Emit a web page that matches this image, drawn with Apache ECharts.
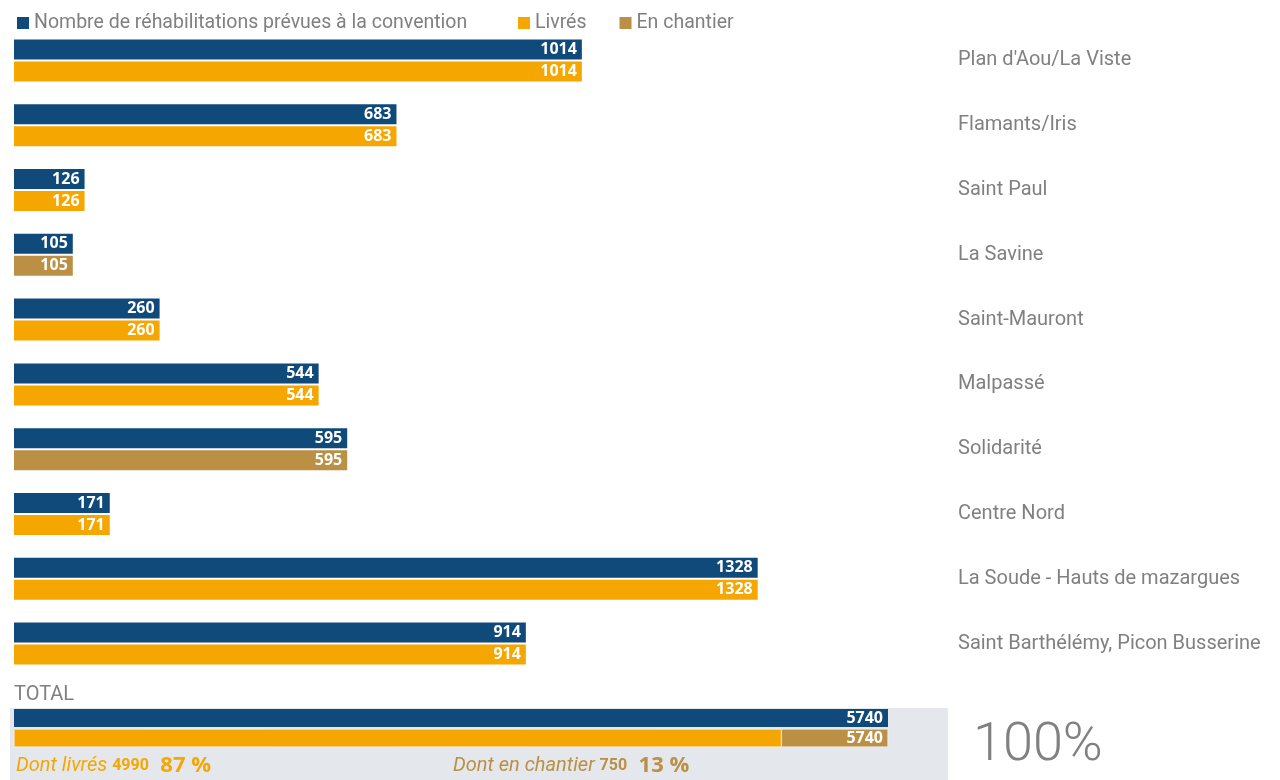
<!DOCTYPE html>
<html>
<head>
<meta charset="utf-8">
<script src="https://cdn.jsdelivr.net/npm/echarts@6/dist/echarts.min.js"></script>
<style>
  html, body { margin: 0; padding: 0; background: #fff; }
  #main { width: 1280px; height: 780px; }
</style>
</head>
<body>
<div id="main"></div>
<script>
// quartiers (de haut en bas)
var quartiers = ["Plan d'Aou/La Viste", 'Flamants/Iris', 'Saint Paul', 'La Savine', 'Saint-Mauront',
  'Malpassé', 'Solidarité', 'Centre Nord', 'La Soude - Hauts de mazargues', 'Saint Barthélémy, Picon Busserine'];
var prevues = [1014, 683, 126, 105, 260, 544, 595, 171, 1328, 914];
var livres = [1014, 683, 126, '-', 260, 544, '-', 171, 1328, 914];
var chantier = ['-', '-', '-', 105, '-', '-', 595, '-', '-', '-'];
// total
var totalPrevues = 5740;
var totalLivres = 5040;
var totalChantier = 700;
var texteLivres = 4990, pctLivres = '87 %';
var texteChantier = 750, pctChantier = '13 %';

var navy = '#104a7b', orange = '#f5a600', tan = '#bb8f44', grey = '#808080';
var fontTxt = 'Roboto, sans-serif';
var fontBold = '"Open Sans", sans-serif';

var chart = echarts.init(document.getElementById('main'));

var lbl = {
  show: true,
  position: 'insideRight',
  distance: 5,
  color: '#fff',
  fontFamily: fontBold,
  fontWeight: 'bold',
  fontSize: 16
};

var legendCommun = {
  top: 8,
  itemWidth: 12,
  itemHeight: 12,
  icon: 'rect',
  textStyle: { color: grey, fontSize: 19.5, fontFamily: fontTxt }
};

var option = {
  animation: false,
  legend: [
    Object.assign({ left: 12, data: ['Nombre de réhabilitations prévues à la convention'] }, legendCommun),
    Object.assign({ left: 513, itemGap: 33, data: ['Livrés', 'En chantier'] }, legendCommun)
  ],
  grid: [
    { left: 14, top: 28, width: 896, height: 648 },
    { left: 14, top: 709, width: 874 * 6000 / 5740, height: 38 }
  ],
  xAxis: [
    { gridIndex: 0, type: 'value', min: 0, max: 1600, show: false },
    { gridIndex: 1, type: 'value', min: 0, max: 6000, show: false }
  ],
  yAxis: [
    {
      gridIndex: 0, type: 'category', data: quartiers, inverse: true, position: 'right',
      axisLine: { show: false }, axisTick: { show: false },
      axisLabel: { margin: 48, color: grey, fontSize: 20, fontFamily: fontTxt, align: 'left' }
    },
    {
      gridIndex: 1, type: 'category', data: ['TOTAL'], show: false
    }
  ],
  graphic: [
    { type: 'rect', z: 0, shape: { x: 10, y: 708, width: 938, height: 72 }, style: { fill: '#e4e8ec' } },
    { type: 'text', left: 14, top: 685, style: { text: 'TOTAL', fill: grey, font: '20px ' + fontTxt } },
    {
      type: 'text', left: 16, top: 755,
      style: {
        text: '{a|Dont livrés }{b|' + texteLivres + '}{c|  ' + pctLivres + '}',
        rich: {
          a: { fill: orange, fontStyle: 'italic', fontSize: 20, fontFamily: fontTxt },
          b: { fill: orange, fontWeight: 'bold', fontSize: 16, fontFamily: fontTxt },
          c: { fill: orange, fontWeight: 'bold', fontSize: 22, fontFamily: fontBold }
        }
      }
    },
    {
      type: 'text', left: 453, top: 755,
      style: {
        text: '{a|Dont en chantier }{b|' + texteChantier + '}{c|  ' + pctChantier + '}',
        rich: {
          a: { fill: tan, fontStyle: 'italic', fontSize: 20, fontFamily: fontTxt },
          b: { fill: tan, fontWeight: 'bold', fontSize: 16, fontFamily: fontTxt },
          c: { fill: tan, fontWeight: 'bold', fontSize: 22, fontFamily: fontBold }
        }
      }
    },
    { type: 'text', left: 973, top: 719, style: { text: '100%', fill: grey, font: '300 54px ' + fontTxt } }
  ],
  series: [
    {
      name: 'Nombre de réhabilitations prévues à la convention', type: 'bar',
      xAxisIndex: 0, yAxisIndex: 0, data: prevues, barWidth: 20, barGap: '10%',
      itemStyle: { color: navy }, label: lbl
    },
    {
      name: 'Livrés', type: 'bar', stack: 'r',
      xAxisIndex: 0, yAxisIndex: 0, data: livres, barWidth: 20,
      itemStyle: { color: orange }, label: lbl
    },
    {
      name: 'En chantier', type: 'bar', stack: 'r',
      xAxisIndex: 0, yAxisIndex: 0, data: chantier, barWidth: 20,
      itemStyle: { color: tan }, label: lbl
    },
    // total
    {
      name: 'Nombre de réhabilitations prévues à la convention', type: 'bar',
      xAxisIndex: 1, yAxisIndex: 1, data: [totalPrevues], barWidth: 18, barGap: '12%',
      itemStyle: { color: navy }, label: lbl
    },
    {
      name: 'Livrés', type: 'bar', stack: 't',
      xAxisIndex: 1, yAxisIndex: 1, data: [totalLivres], barWidth: 18,
      itemStyle: { color: orange, borderColor: '#fff', borderWidth: 0.5 }
    },
    {
      name: 'En chantier', type: 'bar', stack: 't',
      xAxisIndex: 1, yAxisIndex: 1, data: [totalChantier], barWidth: 18,
      itemStyle: { color: tan, borderColor: '#fff', borderWidth: 0.5 },
      label: Object.assign({}, lbl, {
        formatter: function () { return totalLivres + totalChantier; }
      })
    }
  ]
};

chart.setOption(option);
</script>
</body>
</html>
